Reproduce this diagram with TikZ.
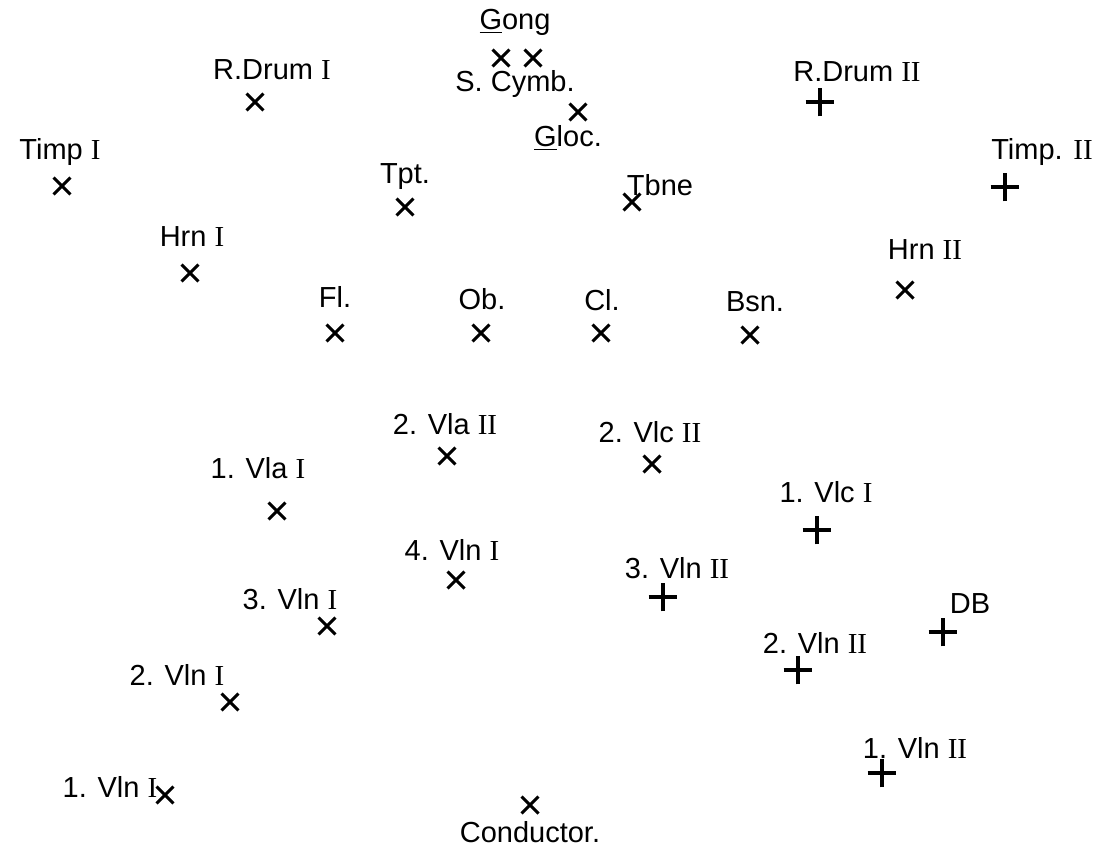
\documentclass[tikz,border=0pt]{standalone}
\usepackage{fontspec}
\setmainfont{Liberation Sans}
\newfontfamily\serifnum{Liberation Serif}
\newcommand{\numI}{{\serifnum I}}
\newcommand{\numII}{{\serifnum II}}
\usepackage{tikz}
\usetikzlibrary{shapes.misc,positioning}

\begin{document}
\begin{tikzpicture}[x=0.02cm, y=-0.02cm,
    every node/.style={font=\fontsize{16.5}{19}\selectfont},
    xmark/.style={cross out, draw, line width=1.7pt, minimum size=0.28cm, inner sep=0pt},
    pmark/.style={xmark, rotate=45, line width=1.9pt, minimum size=0.34cm},
    lbl/.style={inner sep=1pt}]
            \useasboundingbox (0,0) rectangle (1102,856);
            % percussion
            \node[lbl] (gongL) at (515,22) {\underline{G}ong};
            \node[xmark] (gongA) at (501,58) {};
            \node[xmark] (gongB) at (533,58) {};
            \node[lbl] (cymL) at (515,84) {S. Cymb.};
            \node[xmark] (gloc) at (578,112) {};
            \node[lbl] (glocL) at (568,138) {\underline{G}loc.};
            \node[lbl] (drumIL) at (272,70) {R.Drum \numI};
            \node[xmark] (drumI) at (255,102) {};
            \node[lbl] (drumIIL) at (857,72) {R.Drum \numII};
            \node[pmark] (drumII) at (820,102) {};
            \node[lbl] (timpIL) at (60,152) {Timp \numI};
            \node[xmark] (timpI) at (62,186) {};
            \node[lbl] (timpIIL) at (1042,152) {Timp. \numII};
            \node[pmark] (timpII) at (1005,187) {};
            % brass
            \node[lbl] (tptL) at (405,177) {Tpt.};
            \node[xmark] (tpt) at (405,207) {};
            \node[lbl] (tbnL) at (660,185) {Tbne};
            \node[xmark] (tbn) at (632,202) {};
            \node[lbl] (hrnIL) at (192,237) {Hrn \numI};
            \node[xmark] (hrnI) at (190,273) {};
            \node[lbl] (hrnIIL) at (925,250) {Hrn \numII};
            \node[xmark] (hrnII) at (905,290) {};
            % woodwinds
            \node[lbl] (flL) at (335,297) {Fl.};
            \node[xmark] (fl) at (335,333) {};
            \node[lbl] (obL) at (482,299) {Ob.};
            \node[xmark] (ob) at (481,333) {};
            \node[lbl] (clL) at (602,300) {Cl.};
            \node[xmark] (cl) at (601,333) {};
            \node[lbl] (bsnL) at (755,302) {Bsn.};
            \node[xmark] (bsn) at (750,335) {};
            % strings
            \node[lbl] (vlaIIL) at (445,424) {2. Vla \numII};
            \node[xmark] (vlaII) at (447,456) {};
            \node[lbl] (vlcIIL) at (650,432) {2. Vlc \numII};
            \node[xmark] (vlcII) at (652,464) {};
            \node[lbl] (vlaIL) at (258,468) {1. Vla \numI};
            \node[xmark] (vlaI) at (277,511) {};
            \node[lbl] (vlcIL) at (826,492) {1. Vlc \numI};
            \node[pmark] (vlcI) at (817,530) {};
            \node[lbl] (vln4L) at (452,550) {4. Vln \numI};
            \node[xmark] (vln4) at (456,580) {};
            \node[lbl] (vln3L) at (290,599) {3. Vln \numI};
            \node[xmark] (vln3) at (327,626) {};
            \node[lbl] (vln3bL) at (677,568) {3. Vln \numII};
            \node[pmark] (vln3b) at (663,597) {};
            \node[lbl] (vln2bL) at (815,643) {2. Vln \numII};
            \node[pmark] (vln2b) at (798,670) {};
            \node[lbl] (dbL) at (970,604) {DB};
            \node[pmark] (db) at (943,632) {};
            \node[lbl] (vln2L) at (177,675) {2. Vln \numI};
            \node[xmark] (vln2) at (230,702) {};
            \node[lbl] (vln1L) at (110,787) {1. Vln \numI};
            \node[xmark] (vln1) at (165,795) {};
            \node[lbl] (vln1bL) at (915,748) {1. Vln \numII};
            \node[pmark] (vln1b) at (882,773) {};
            % podium
            \node[xmark] (cond) at (530,805) {};
            \node[lbl] (condL) at (530,832) {Conductor.};
        \end{tikzpicture}
\end{document}
